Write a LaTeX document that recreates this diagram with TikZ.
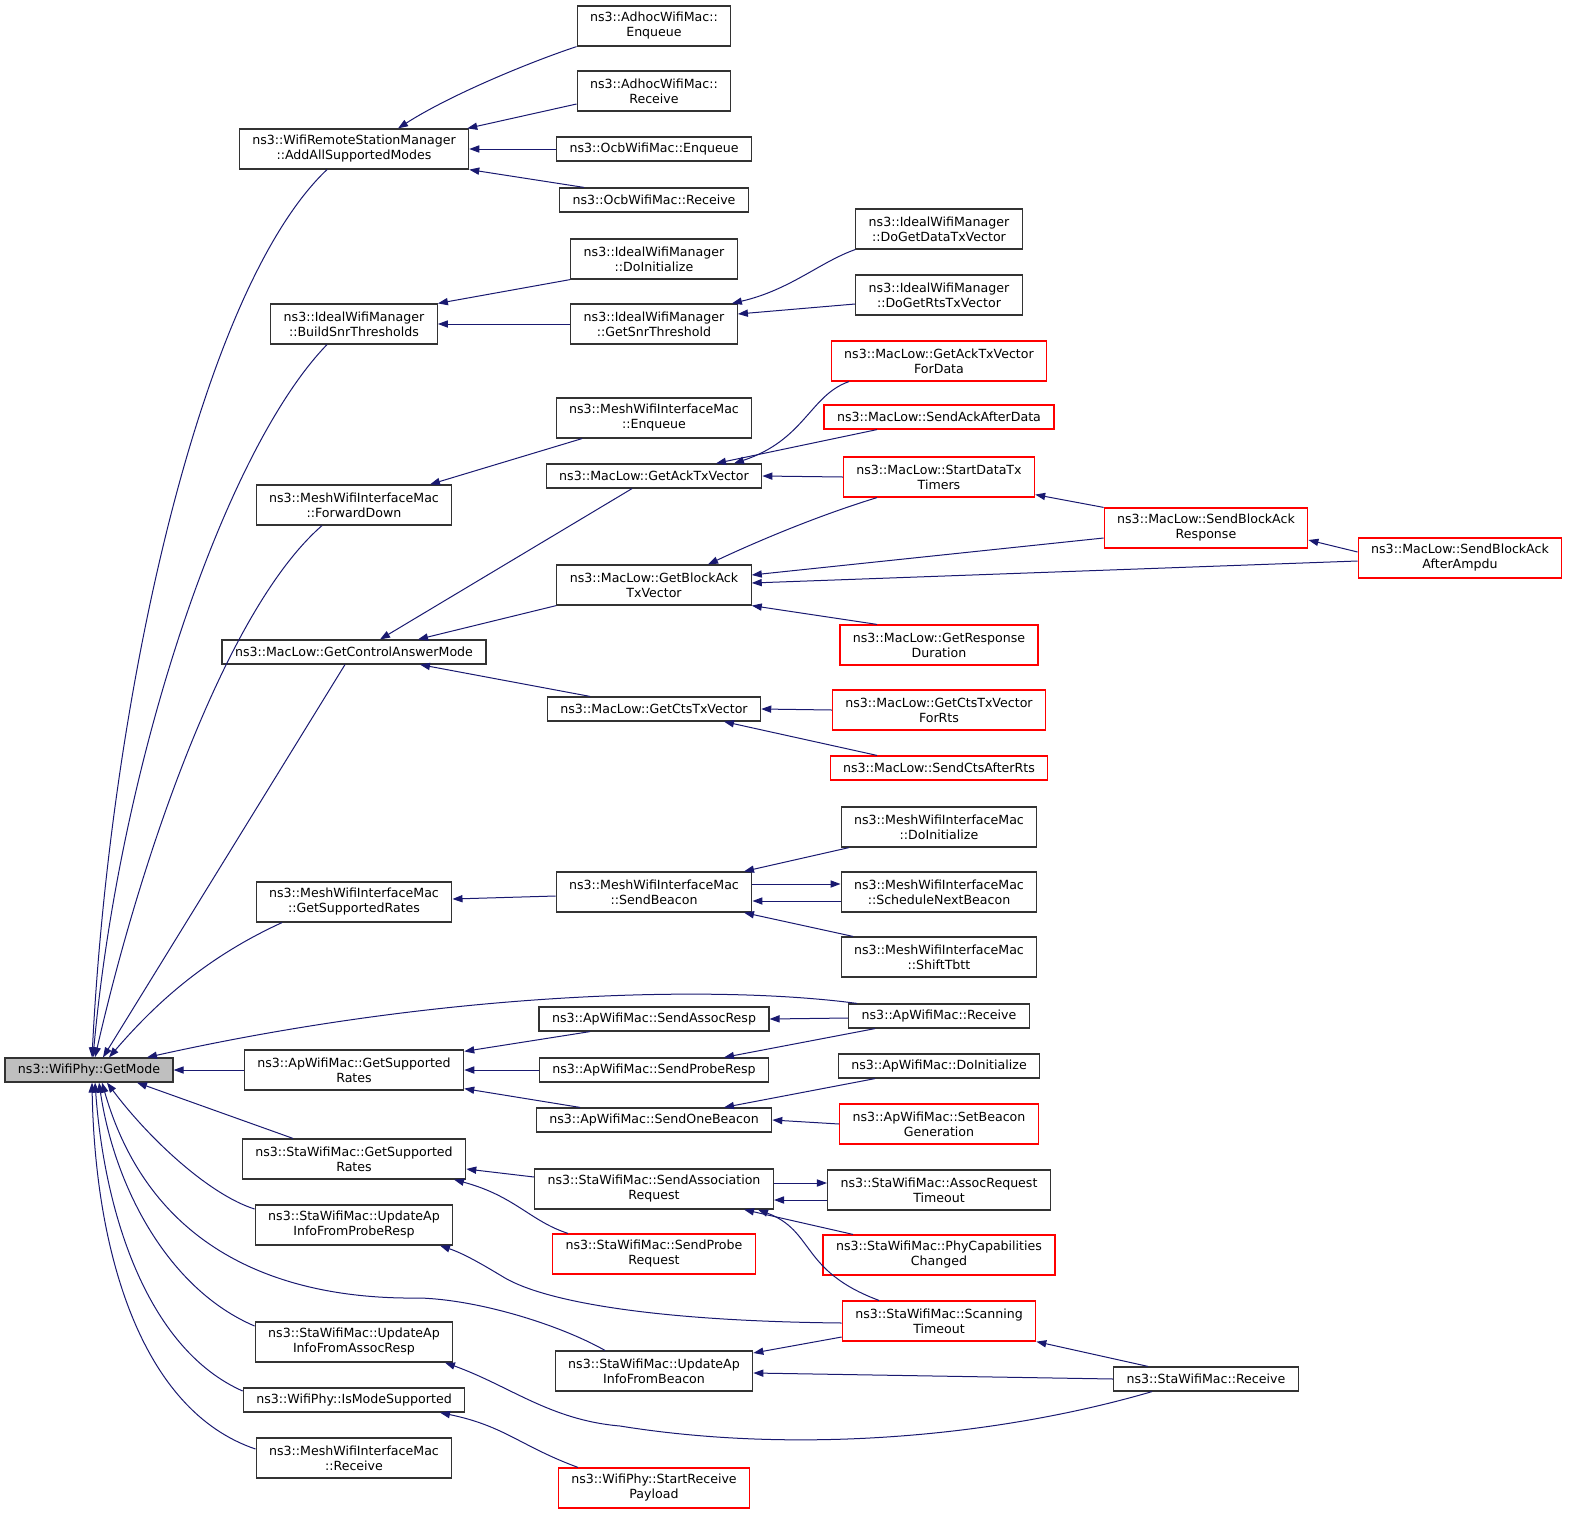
\documentclass[tikz,border=0pt]{standalone}
\usepackage{fontspec}
\setmainfont{DejaVu Sans}
\usetikzlibrary{arrows.meta}
\definecolor{callblue}{HTML}{191970}
\definecolor{cellgray}{HTML}{BFBFBF}
\tikzset{>={Triangle[length=5pt,width=3.6pt]}}

\begin{document}
\begin{tikzpicture}[x=0.5pt, y=0.5pt,
    fn/.style={draw=black!80, line width=0.6pt, fill=white, align=center,
        font=\fontsize{6.3}{7.5}\selectfont, inner xsep=6.5pt, inner ysep=1pt,
        minimum height=12pt},
    two/.style={minimum height=20pt},
    hot/.style={draw=red},
    cg/.style={->, callblue, line width=0.5pt}]
    \useasboundingbox (0,0) rectangle (1571,-1516);

    % root
    \node[fn, fill=cellgray] (gm) at (89,-1070) {ns3::WifiPhy::GetMode};

    % first ring of callers
    \node[fn, two] (aasm) at (354,-149) {ns3::WifiRemoteStationManager\\::AddAllSupportedModes};
    \node[fn, two] (bst) at (354,-324) {ns3::IdealWifiManager\\::BuildSnrThresholds};
    \node[fn, two] (fwd) at (354,-505) {ns3::MeshWifiInterfaceMac\\::ForwardDown};
    \node[fn] (cam) at (354,-652) {ns3::MacLow::GetControlAnswerMode};
    \node[fn, two] (mgsr) at (354,-902) {ns3::MeshWifiInterfaceMac\\::GetSupportedRates};
    \node[fn, two] (agsr) at (354,-1070) {ns3::ApWifiMac::GetSupported\\Rates};
    \node[fn, two] (sgsr) at (354,-1159) {ns3::StaWifiMac::GetSupported\\Rates};
    \node[fn, two] (uprobe) at (354,-1225) {ns3::StaWifiMac::UpdateAp\\InfoFromProbeResp};
    \node[fn, two] (uassoc) at (354,-1342) {ns3::StaWifiMac::UpdateAp\\InfoFromAssocResp};
    \node[fn] (ims) at (354,-1400) {ns3::WifiPhy::IsModeSupported};
    \node[fn, two] (mrecv) at (354,-1458) {ns3::MeshWifiInterfaceMac\\::Receive};

    % second ring
    \node[fn, two] (aenq) at (654,-26) {ns3::AdhocWifiMac::\\Enqueue};
    \node[fn, two] (arecv) at (654,-91) {ns3::AdhocWifiMac::\\Receive};
    \node[fn] (oenq) at (654,-149) {ns3::OcbWifiMac::Enqueue};
    \node[fn] (orecv) at (654,-200) {ns3::OcbWifiMac::Receive};
    \node[fn, two] (idoinit) at (654,-259) {ns3::IdealWifiManager\\::DoInitialize};
    \node[fn, two] (gsnr) at (654,-324) {ns3::IdealWifiManager\\::GetSnrThreshold};
    \node[fn, two] (menq) at (654,-418) {ns3::MeshWifiInterfaceMac\\::Enqueue};
    \node[fn] (gatv) at (654,-476) {ns3::MacLow::GetAckTxVector};
    \node[fn, two] (gbatv) at (654,-585) {ns3::MacLow::GetBlockAck\\TxVector};
    \node[fn] (gctv) at (654,-709) {ns3::MacLow::GetCtsTxVector};
    \node[fn, two] (sbeacon) at (654,-892) {ns3::MeshWifiInterfaceMac\\::SendBeacon};
    \node[fn] (sassocresp) at (654,-1019) {ns3::ApWifiMac::SendAssocResp};
    \node[fn] (sproberesp) at (654,-1070) {ns3::ApWifiMac::SendProbeResp};
    \node[fn] (sonebeacon) at (654,-1120) {ns3::ApWifiMac::SendOneBeacon};
    \node[fn, two] (sassocreq) at (654,-1189) {ns3::StaWifiMac::SendAssociation\\Request};
    \node[fn, two, hot] (sprobereq) at (654,-1254) {ns3::StaWifiMac::SendProbe\\Request};
    \node[fn, two] (ubeacon) at (654,-1371) {ns3::StaWifiMac::UpdateAp\\InfoFromBeacon};
    \node[fn, two, hot] (srpayload) at (654,-1488) {ns3::WifiPhy::StartReceive\\Payload};

    % third ring
    \node[fn, two] (dgdtv) at (939,-229) {ns3::IdealWifiManager\\::DoGetDataTxVector};
    \node[fn, two] (dgrtv) at (939,-295) {ns3::IdealWifiManager\\::DoGetRtsTxVector};
    \node[fn, two, hot] (gatvfd) at (939,-361) {ns3::MacLow::GetAckTxVector\\ForData};
    \node[fn, hot] (saad) at (939,-417) {ns3::MacLow::SendAckAfterData};
    \node[fn, two, hot] (sdtt) at (939,-477) {ns3::MacLow::StartDataTx\\Timers};
    \node[fn, two, hot] (grd) at (939,-645) {ns3::MacLow::GetResponse\\Duration};
    \node[fn, two, hot] (gctvfr) at (939,-710) {ns3::MacLow::GetCtsTxVector\\ForRts};
    \node[fn, hot] (scar) at (939,-768) {ns3::MacLow::SendCtsAfterRts};
    \node[fn, two] (mdoinit) at (939,-827) {ns3::MeshWifiInterfaceMac\\::DoInitialize};
    \node[fn, two] (snb) at (939,-892) {ns3::MeshWifiInterfaceMac\\::ScheduleNextBeacon};
    \node[fn, two] (stbtt) at (939,-957) {ns3::MeshWifiInterfaceMac\\::ShiftTbtt};
    \node[fn] (aprecv) at (939,-1016) {ns3::ApWifiMac::Receive};
    \node[fn] (apdoinit) at (939,-1066) {ns3::ApWifiMac::DoInitialize};
    \node[fn, two, hot] (sbg) at (939,-1124) {ns3::ApWifiMac::SetBeacon\\Generation};
    \node[fn, two] (art) at (939,-1190) {ns3::StaWifiMac::AssocRequest\\Timeout};
    \node[fn, two, hot] (pcc) at (939,-1255) {ns3::StaWifiMac::PhyCapabilities\\Changed};
    \node[fn, two, hot] (scto) at (939,-1321) {ns3::StaWifiMac::Scanning\\Timeout};

    % outer ring
    \node[fn, two, hot] (sbar) at (1206,-528) {ns3::MacLow::SendBlockAck\\Response};
    \node[fn] (strecv) at (1206,-1379) {ns3::StaWifiMac::Receive};
    \node[fn, two, hot] (sbaaa) at (1460,-558) {ns3::MacLow::SendBlockAck\\AfterAmpdu};

    % calls into GetMode
    \draw[cg] ([xshift=-13.5pt]aasm.south) .. controls (200,-290) and (110,-700) .. ([xshift=1.5pt]gm.north);
    \draw[cg] ([xshift=-13.5pt]bst.south) .. controls (225,-450) and (120,-760) .. ([xshift=2pt]gm.north);
    \draw[cg] ([xshift=-16pt]fwd.south) .. controls (225,-610) and (140,-860) .. ([xshift=3pt]gm.north);
    \draw[cg] ([xshift=-4.5pt]cam.south) -- ([xshift=7pt]gm.north);
    \draw[cg] ([xshift=-36pt]mgsr.south) .. controls (200,-960) and (150,-1010) .. ([xshift=10pt]gm.north);
    \draw[cg] ([xshift=-41pt]aprecv.north) .. controls (720,-985) and (450,-990) .. ([xshift=29pt]gm.north);
    \draw[cg] (agsr.west) -- (gm.east);
    \draw[cg] ([xshift=-30.5pt]sgsr.north) -- ([xshift=24pt]gm.south);
    \draw[cg] ([yshift=8pt]uprobe.west) .. controls (210,-1195) and (150,-1140) .. ([xshift=9pt]gm.south);
    \draw[cg] ([xshift=-24.5pt]ubeacon.north) .. controls (560,-1325) and (480,-1300) .. (420,-1298)
        .. controls (280,-1300) and (150,-1250) .. ([xshift=6.5pt]gm.south);
    \draw[cg] ([yshift=8pt]uassoc.west) .. controls (170,-1290) and (115,-1190) .. ([xshift=5pt]gm.south);
    \draw[cg] ([yshift=4.5pt]ims.west) .. controls (150,-1350) and (105,-1220) .. ([xshift=3pt]gm.south);
    \draw[cg] ([yshift=4.5pt]mrecv.west) .. controls (140,-1410) and (95,-1250) .. ([xshift=1.5pt]gm.south);

    % AddAllSupportedModes, BuildSnrThresholds, ForwardDown
    \draw[cg] (aenq.south west) .. controls (530,-62) and (450,-95) .. ([xshift=22pt]aasm.north);
    \draw[cg] ([yshift=-6.5pt]arecv.west) -- ([xshift=-1pt]aasm.north east);
    \draw[cg] (oenq.west) -- (aasm.east);
    \draw[cg] ([xshift=-35pt]orecv.north) -- (aasm.south east);
    \draw[cg] (idoinit.south west) -- (bst.north east);
    \draw[cg] (gsnr.west) -- (bst.east);
    \draw[cg] (dgdtv.south west) .. controls (820,-262) and (790,-290) .. ([xshift=-3pt]gsnr.north east);
    \draw[cg] ([yshift=-4.5pt]dgrtv.west) -- ([yshift=5pt]gsnr.east);
    \draw[cg] ([xshift=-36pt]menq.south) -- ([xshift=38pt]fwd.north);

    % GetControlAnswerMode
    \draw[cg] ([xshift=-11pt]gatv.south) -- ([xshift=13pt]cam.north);
    \draw[cg] (gbatv.south west) -- ([xshift=32pt]cam.north);
    \draw[cg] ([xshift=-32pt]gctv.north) -- ([xshift=33pt]cam.south);
    \draw[cg] ([xshift=-45pt]gatvfd.south) .. controls (810,-395) and (805,-440) .. ([xshift=40pt]gatv.north);
    \draw[cg] ([xshift=-31pt]saad.south) -- ([xshift=31pt]gatv.north);
    \draw[cg] (sdtt.west) -- (gatv.east);
    \draw[cg] ([xshift=-31pt]sdtt.south) .. controls (820,-515) and (760,-540) .. ([xshift=27pt]gbatv.north);
    \draw[cg] ([yshift=-5pt]sbar.west) -- ([yshift=5pt]gbatv.east);
    \draw[cg] ([yshift=-1.5pt]sbaaa.west) -- ([yshift=1pt]gbatv.east);
    \draw[cg] ([xshift=-31pt]grd.north) -- (gbatv.south east);
    \draw[cg] (sbar.north west) -- ([yshift=1.5pt]sdtt.south east);
    \draw[cg] ([yshift=3pt]sbaaa.west) -- ([yshift=-6pt]sbar.east);
    \draw[cg] (gctvfr.west) -- (gctv.east);
    \draw[cg] ([xshift=-31pt]scar.north) -- ([xshift=35pt]gctv.south);

    % mesh beacons
    \draw[cg] ([yshift=-2pt]sbeacon.west) -- ([yshift=1.5pt]mgsr.east);
    \draw[cg] ([xshift=-45pt]mdoinit.south) -- ([xshift=45pt]sbeacon.north);
    \draw[cg] ([yshift=4pt]sbeacon.east) -- ([yshift=4pt]snb.west);
    \draw[cg] ([yshift=-4.5pt]snb.west) -- ([yshift=-4.5pt]sbeacon.east);
    \draw[cg] ([xshift=-43pt]stbtt.north) -- ([xshift=45pt]sbeacon.south);

    % ApWifiMac
    \draw[cg] ([xshift=-32pt]sassocresp.south) -- ([yshift=-1pt]agsr.north east);
    \draw[cg] (sproberesp.west) -- (agsr.east);
    \draw[cg] ([xshift=-37pt]sonebeacon.north) -- ([yshift=1pt]agsr.south east);
    \draw[cg] ([yshift=-1pt]aprecv.west) -- (sassocresp.east);
    \draw[cg] ([xshift=-32pt]aprecv.south) -- ([xshift=35pt]sproberesp.north);
    \draw[cg] ([xshift=-32pt]apdoinit.south) -- ([xshift=35pt]sonebeacon.north);
    \draw[cg] (sbg.west) -- (sonebeacon.east);

    % StaWifiMac
    \draw[cg] ([yshift=6pt]sassocreq.west) -- ([yshift=-5pt]sgsr.east);
    \draw[cg] ([xshift=-43pt]sprobereq.north) .. controls (530,-1221) and (515,-1196) .. ([xshift=50pt]sgsr.south);
    \draw[cg] ([yshift=3pt]sassocreq.east) -- ([yshift=3.5pt]art.west);
    \draw[cg] ([yshift=-5pt]art.west) -- ([yshift=-5.5pt]sassocreq.east);
    \draw[cg] ([xshift=-43pt]pcc.north) -- ([xshift=45pt]sassocreq.south);
    \draw[cg] ([xshift=-30pt]scto.north) .. controls (800,-1271) and (815,-1231) .. ([xshift=52pt]sassocreq.south);
    \draw[cg] ([yshift=-1pt]scto.west) .. controls (650,-1321) and (545,-1301) .. (505,-1278)
        .. controls (485,-1266) and (465,-1254) .. ([xshift=43pt]uprobe.south);
    \draw[cg] ([yshift=-8pt]scto.west) -- ([yshift=9pt]ubeacon.east);
    \draw[cg] ([xshift=-29pt]strecv.north) -- (scto.south east);
    \draw[cg] (strecv.west) -- ([yshift=-1pt]ubeacon.east);
    \draw[cg] ([xshift=-27pt]strecv.south) .. controls (1000,-1436) and (800,-1455) .. (620,-1426)
        .. controls (550,-1420) and (510,-1386) .. ([xshift=45.5pt]uassoc.south);
    \draw[cg] ([xshift=-38pt]srpayload.north) .. controls (520,-1446) and (505,-1426) .. ([xshift=43pt]ims.south);
\end{tikzpicture}
\end{document}
